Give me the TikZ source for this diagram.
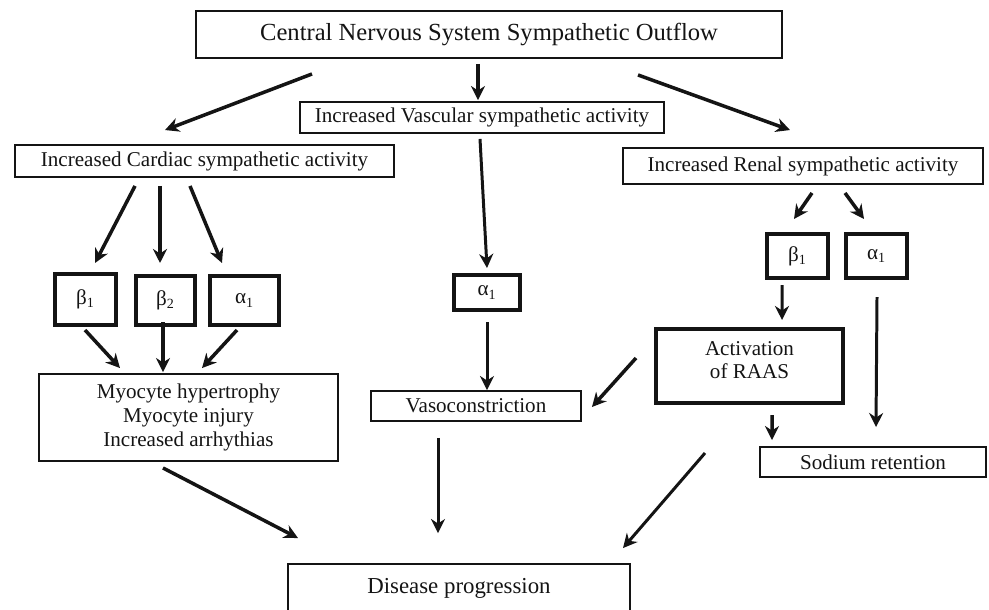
\documentclass[tikz,border=0pt]{standalone}
\usepackage{fontspec}
\setmainfont{Liberation Serif}
\usepackage{xcolor}
\usetikzlibrary{arrows.meta, calc}
\definecolor{ink}{HTML}{141414}

\begin{document}
\begin{tikzpicture}[
    x=0.02cm, y=-0.02cm,
    box/.style={draw=ink, line width=1.1pt, inner sep=0pt, align=center,
                text=ink, font=\fontsize{12}{13.6}\selectfont},
    receptor/.style={box, line width=2.3pt},
    arrow/.style={-{Stealth[length=8pt,width=8pt]}, line width=2pt, ink},
    thinarrow/.style={arrow, line width=1.7pt}
  ]
    \useasboundingbox (0,0) rectangle (989,609);

    % Outflow
    \node[box, minimum width=11.72cm, minimum height=0.94cm,
          font=\fontsize{14}{16}\selectfont] (cns) at (489,34.5)
      {Central Nervous System Sympathetic Outflow};
    \node[box, minimum width=7.58cm, minimum height=0.64cm] (card) at (204.5,161)
      {Increased Cardiac sympathetic activity};
    \node[box, minimum width=7.28cm, minimum height=0.62cm] (vasc) at (482,117.5)
      {Increased Vascular sympathetic activity};
    \node[box, minimum width=7.2cm, minimum height=0.72cm] (renal) at (803,166)
      {Increased Renal sympathetic activity};

    % Cardiac receptors
    \node[receptor, minimum width=1.22cm, minimum height=1.02cm] (cb1) at (85.5,299.5) {β\textsubscript{1}};
    \node[receptor, minimum width=1.18cm, minimum height=0.98cm] (cb2) at (165.5,300.5) {β\textsubscript{2}};
    \node[receptor, minimum width=1.38cm, minimum height=0.98cm] (ca1) at (244.5,300.5) {α\textsubscript{1}};
    \node[box, minimum width=5.98cm, minimum height=1.74cm] (myo) at (188.5,417.5)
      {Myocyte hypertrophy\\Myocyte injury\\Increased arrhythias};

    % Vascular receptor
    \node[receptor, minimum width=1.32cm, minimum height=0.7cm] (va1) at (487,292.5) {α\textsubscript{1}};
    \node[box, minimum width=4.2cm, minimum height=0.6cm] (vaso) at (476,406) {Vasoconstriction};

    % Renal receptors
    \node[receptor, minimum width=1.22cm, minimum height=0.88cm] (rb1) at (797.5,256) {β\textsubscript{1}};
    \node[receptor, minimum width=1.22cm, minimum height=0.88cm] (ra1) at (876.5,256) {α\textsubscript{1}};
    \node[receptor, minimum width=3.74cm, minimum height=1.48cm] (raas) at (749.5,366)
      {Activation\\of RAAS\\[-0.24cm]};
    \node[box, minimum width=4.52cm, minimum height=0.6cm] (sod) at (873,462) {Sodium retention};

    \node[box, minimum width=6.84cm, minimum height=0.96cm,
          font=\fontsize{13}{15}\selectfont] (dis) at (459,588) {Disease progression};

    \draw[arrow] ($(cns.south)+(-177,15)$) -- ($(card.north)+(-39.5,-14)$);
    \draw[arrow] ($(cns.south)+(-11,5)$) -- ($(vasc.north)+(-4,-1)$);
    \draw[arrow] ($(cns.south)+(149,16)$) -- ($(renal.north)+(-13,-17)$);

    \draw[arrow] ($(card.south)+(-69.5,8)$) -- ($(cb1.north)+(9.5,-9)$);
    \draw[arrow] ($(card.south)+(-44.5,8)$) -- ($(cb2.north)+(-5.5,-11)$);
    \draw[arrow] ($(card.south)+(-14.5,8)$) -- ($(ca1.north)+(-22.5,-11)$);
    \draw[arrow] ($(cb1.south)+(-0.5,3)$) -- ($(myo.north)+(-68.5,-5)$);
    \draw[arrow] ($(cb2.south)+(-2.5,-5)$) -- ($(myo.north)+(-25.5,-1)$);
    \draw[arrow] ($(ca1.south)+(-7.5,3)$) -- ($(myo.north)+(13.5,-5)$);

    \draw[thinarrow] ($(vasc.south)+(-2,5)$) -- ($(va1.north)+(0,-5)$);
    \draw[thinarrow] ($(va1.south)+(0,10)$) -- ($(vaso.north)+(11,0)$);

    \draw[arrow] ($(renal.south)+(9,8)$) -- ($(rb1.north)+(-3.5,-13)$);
    \draw[arrow] ($(renal.south)+(42,8)$) -- ($(ra1.north)+(-12.5,-13)$);
    \draw[thinarrow] ($(rb1.south)+(-15.5,5)$) -- ($(raas.north)+(32.5,-7)$);
    \draw[thinarrow] ($(ra1.south)+(0.5,17)$) -- ($(sod.north)+(3,-19)$);
    \draw[arrow] ($(raas.south)+(22.5,10)$) -- ($(sod.north)+(-101,-6)$);
    \draw[arrow] ($(raas.west)+(-18,-8)$) -- ($(vaso.east)+(10,1)$);

    \draw[arrow] ($(myo.south)+(-25.5,6)$) -- ($(dis.north)+(-161,-25)$);
    \draw[thinarrow] ($(vaso.south)+(-38,16)$) -- ($(dis.north)+(-21,-30)$);
    \draw[thinarrow] ($(raas.south)+(-44.5,48)$) -- ($(dis.north)+(164,-15)$);
  \end{tikzpicture}
\end{document}
